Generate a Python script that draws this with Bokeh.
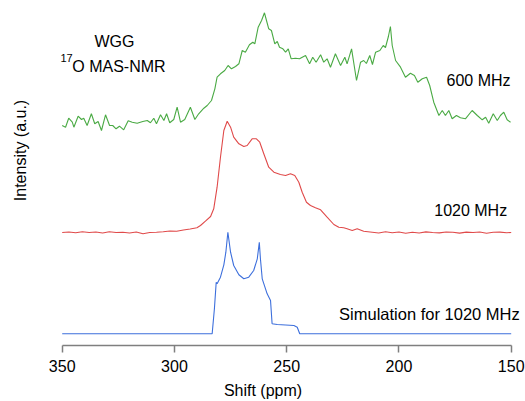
from bokeh.plotting import figure
from bokeh.models import Range1d, FixedTicker, Label
from bokeh.embed import file_html
from bokeh.resources import INLINE
import math

# ---- data ----
# 600 MHz experimental spectrum: shift (ppm), intensity (a.u.)
ppm_600 = [350.0, 348.5, 347.1, 345.5, 344.8, 342.9, 341.4, 340.4, 338.9, 337.0, 335.5, 334.0, 332.5,
           330.7, 328.9, 327.5, 326.0, 324.5, 322.6, 320.6, 318.8, 316.6, 314.1, 312.1, 310.7, 309.2,
           308.0, 306.2, 304.7, 303.5, 302.1, 300.3, 298.8, 297.3, 295.4, 292.9, 290.9, 289.2, 286.9,
           285.4, 283.5, 282.0, 281.0, 279.5, 277.6, 276.1, 274.6, 272.8, 271.3, 269.8, 268.4, 266.6,
           265.1, 264.2, 262.7, 261.2, 259.9, 259.0, 258.0, 256.8, 255.3, 254.2, 253.2, 251.7, 250.5,
           249.3, 248.0, 246.1, 244.3, 241.6, 239.8, 238.4, 236.9, 234.9, 233.5, 232.0, 230.5, 228.3,
           226.0, 224.1, 223.1, 221.1, 218.9, 217.1, 215.7, 214.5, 213.0, 211.8, 210.4, 208.5, 207.0,
           206.0, 204.7, 203.8, 203.0, 201.5, 199.3, 197.1, 194.9, 193.1, 191.6, 189.6, 187.7, 186.3,
           184.5, 182.2, 180.7, 179.3, 177.8, 176.3, 174.4, 172.6, 170.4, 167.4, 165.1, 162.9, 161.4,
           160.0, 158.0, 156.2, 154.8, 153.3, 151.8, 150.3]
int_600 = [-5.0, -6.7, 2.3, -1.7, -6.7, 4.3, 1.0, 2.3, -5.0, 6.7, -3.3, -1.0, -10.0,
           5.7, -5.0, -5.0, -8.3, -5.7, -9.3, -0.3, -1.7, -2.7, -1.0, 0.0, -2.3, 2.3,
           -3.3, 5.7, 0.0, 6.7, -2.3, 1.0, 13.3, -1.7, 1.0, 13.3, 1.0, 6.7, 12.3,
           15.0, 20.0, 31.7, 43.3, 46.7, 50.0, 55.0, 51.7, 54.0, 56.7, 70.0, 68.3, 75.7,
           78.3, 76.7, 93.3, 100.0, 107.7, 100.0, 91.7, 90.0, 76.7, 79.0, 73.3, 71.7, 68.3,
           71.7, 61.7, 62.3, 61.7, 65.0, 56.7, 63.3, 58.3, 65.7, 58.3, 61.7, 53.3, 66.7,
           55.0, 63.3, 56.7, 71.7, 40.0, 58.3, 60.0, 57.0, 65.0, 56.0, 68.3, 70.0, 75.0,
           73.0, 84.0, 94.0, 75.0, 60.0, 53.3, 43.3, 47.3, 45.0, 38.3, 41.7, 43.3, 35.0,
           18.3, 5.0, 10.0, 5.0, 10.0, 1.7, 5.0, 2.7, 1.7, 10.0, 5.0, 0.7, 3.3,
           -2.7, 6.7, 0.0, 5.0, 8.3, 0.7, -1.7]

# 1020 MHz experimental spectrum
ppm_1020 = [350.0, 347.0, 344.0, 341.0, 338.0, 335.0, 332.0, 329.0, 326.0, 323.0, 320.0, 317.0,
            314.0, 311.0, 308.0, 305.0, 302.0, 299.0, 296.0, 293.0, 290.0, 288.4, 286.2, 283.9,
            282.5, 281.0, 279.5, 278.0, 276.5, 275.0, 273.6, 271.3, 269.1, 267.6, 265.4, 263.5,
            262.0, 260.2, 258.0, 255.7, 252.8, 250.5, 248.3, 246.4, 244.6, 243.1, 241.2, 239.4,
            237.2, 234.9, 232.0, 229.0, 226.8, 224.6, 223.1, 220.8, 218.6, 215.7, 211.9, 209.0,
            206.0, 203.0, 200.0, 197.0, 194.0, 191.0, 188.0, 185.0, 182.0, 179.0, 176.0, 173.0,
            170.0, 167.0, 164.0, 161.0, 158.0, 155.0, 152.0, 150.0]
int_1020 = [0.0, 0.5, -0.3, 0.8, 0.0, 0.5, -0.5, 0.7, 0.0, 0.3, -0.5, 0.5,
            -1.2, 0.0, 0.3, 0.8, 1.5, 1.2, 2.5, 3.5, 4.8, 7.0, 11.3, 16.0,
            23.7, 45.3, 75.3, 102.0, 111.3, 105.3, 95.3, 88.7, 86.0, 87.0, 93.7, 93.7,
            90.3, 78.7, 65.3, 60.3, 58.0, 57.0, 58.7, 57.0, 50.3, 40.3, 30.3, 27.0,
            24.7, 22.7, 15.3, 8.0, 5.3, 4.7, 3.7, 2.0, 3.7, 1.3, 0.3, -0.5,
            0.8, -0.3, 0.5, -0.8, 0.3, -0.5, 0.6, 0.0, -0.4, 0.5, 0.2, -0.6,
            0.4, 0.0, 0.5, -0.7, 0.3, 0.4, -0.2, 0.0]

# Simulation for 1020 MHz
ppm_sim = [350.0, 283.2, 282.2, 281.4, 281.0, 279.5, 278.0, 277.1, 276.2, 275.0, 273.6, 271.3,
           269.1, 266.9, 264.7, 263.1, 262.2, 261.7, 260.9, 258.7, 257.2, 256.5, 254.2, 246.8,
           245.3, 244.2, 150.0]
int_sim = [0.0, 0.0, 25.0, 51.6, 50.0, 56.6, 69.0, 81.6, 101.6, 81.6, 68.3, 59.0,
           55.0, 56.6, 63.3, 75.0, 91.6, 75.0, 55.0, 40.0, 33.3, 10.0, 9.3, 8.3,
           6.6, 0.0, 0.0]

offsets = {"600": 225.0, "1020": 113.0, "sim": 11.7}
x_ticks = [350, 300, 250, 200, 150]
x_bounds = (150, 350)

FONT = "Liberation Sans"

p = figure(width=525, height=401, output_backend="svg", toolbar_location=None,
           x_range=Range1d(377.48, 143.63), y_range=Range1d(0, 345),
           min_border_left=0, min_border_right=0, min_border_top=0, min_border_bottom=56)
p.outline_line_color = None
p.xgrid.visible = False
p.ygrid.visible = False
p.yaxis.visible = False
p.background_fill_color = "white"

ax = p.xaxis[0]
ax.ticker = FixedTicker(ticks=x_ticks)
ax.bounds = x_bounds
ax.minor_tick_line_color = None
ax.axis_line_color = "#7f7f7f"
ax.axis_line_width = 1.5
ax.major_tick_line_color = "#7f7f7f"
ax.major_tick_line_width = 1.5
ax.major_tick_out = 7
ax.major_tick_in = 0
ax.major_label_standoff = 7
ax.major_label_text_font = FONT
ax.major_label_text_font_size = "16px"
ax.major_label_text_color = "black"
ax.axis_label = "Shift (ppm)"
ax.axis_label_text_font = FONT
ax.axis_label_text_font_size = "16px"
ax.axis_label_text_font_style = "normal"
ax.axis_label_text_color = "black"
ax.axis_label_standoff = 7

p.line(ppm_600, [v + offsets["600"] for v in int_600], line_color="#4aaa44", line_width=1.1)
p.line(ppm_1020, [v + offsets["1020"] for v in int_1020], line_color="#e04a4a", line_width=1.1)
p.line(ppm_sim, [v + offsets["sim"] for v in int_sim], line_color="#3d6fdc", line_width=1.1)

def lab(x, y, text, align="left", size="16px", angle=0.0):
    p.add_layout(Label(x=x, y=y, text=text, text_align=align, text_baseline="middle",
                       text_font=FONT, text_font_size=size, text_color="black", angle=angle))

lab(326.7, 304.0, "WGG", align="center")
lab(350.8, 288.0, "17", size="11px")
lab(345.5, 279.0, "O MAS-NMR")
lab(150.3, 265.0, "600 MHz", align="right")
lab(151.8, 135.0, "1020 MHz", align="right")
lab(146.2, 32.0, "Simulation for 1020 MHz", align="right", size="16.5px")
lab(368.6, 195.0, "Intensity (a.u.)", align="center", angle=math.pi / 2)

open("out.html", "w").write(file_html(p, INLINE))
